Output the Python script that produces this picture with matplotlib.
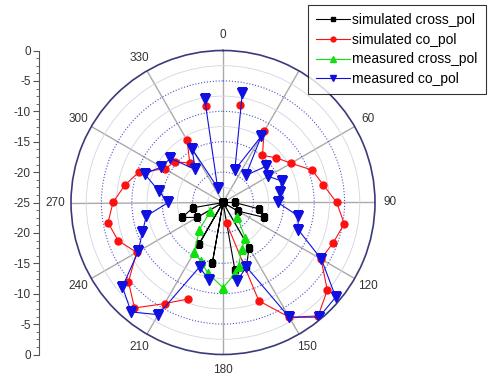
import numpy as np
import matplotlib
matplotlib.use('Agg')
import matplotlib.pyplot as plt
from matplotlib.ticker import MultipleLocator

plt.rcParams['font.family'] = ['Liberation Sans', 'DejaVu Sans']

nan = np.nan
angles = np.arange(0, 360, 10)

# simulated cross_pol (dB), every 10 deg
sim_cross = [-25, -25, -25, -25, -25, -25, -25, -25, -25, -23.1,
             -19.0, -17.9, -22.2, -25, -25, -16.4, -13.8, -13.7,
             -25, -14.85, -25, -17.2, -25, -25, -20.1, -17.8,
             -20.0, -25, -25, -25, -25, -25, -25, -25, -25, -25]
# simulated co_pol
sim_co = [nan, -8.7, nan, -11.5, -14.9, -13.55, -12.1, -9.4, -8.25, -6.3,
          -4.75, -5.7, -6.4, -2.6, -0.65, -3.2, -7.8, -21.5,
          nan, nan, -8.1, -5.8, -2.35, -4.7, -8.6, -6.65,
          -5.8, -6.9, -8.6, -10.3, -13.95, -14.6, -16.5, -13.2, nan, -8.85]
# measured cross_pol
meas_cross_ang = [135, 148, 158, 166, 170, 180, 192, 201, 210, 221, 236]
meas_cross = [-21.7, -18.1, -16.8, -14.3, -13.2, -11.0, -13.1, -14.7, -15.6, -19.1, -22.5]
# measured co_pol
meas_co = [nan, -6.75, -19.3, -12.4, -19.2, -15.7, -16.4, -14.7, -15.5, -16.0,
           -12.5, -11.8, -6.3, -0.8, -0.4, -3.2, -13.7, -11.9,
           nan, -12.0, -13.7, -3.7, -1.5, -3.4, -8.9, -10.9,
           -12.2, -16.0, -14.3, -11.3, -13.3, -13.7, -17.9, -14.8, -22.4, -7.7]

ang_labels = ['0', '', '60', '90', '120', '150', '180', '210', '240', '270', '300', '330']

fig = plt.figure(figsize=(4.91, 3.77), dpi=100)
ax = fig.add_axes([71/491, 22.5/377, 304/491, 304/377], projection='polar')
ax.set_theta_zero_location('N')
ax.set_theta_direction(-1)
ax.set_rlim(-25, 0)

th = np.deg2rad(angles)
ax.plot(th, sim_cross, color='black', lw=0.8, marker='s', ms=4.5, label='simulated cross_pol', zorder=3)
ax.plot(th, sim_co, color='#ff1010', lw=0.8, marker='o', ms=5, label='simulated co_pol', zorder=4)
ax.plot(np.deg2rad(meas_cross_ang), meas_cross, color='#10e010', lw=0.8, marker='^', ms=5.5,
        label='measured cross_pol', zorder=5)
ax.plot(th, meas_co, color='#1010e0', lw=0.8, marker='v', ms=6.5, label='measured co_pol', zorder=6)

ax.set_xticks(np.deg2rad(np.arange(0, 360, 30)))
ax.set_xticklabels(ang_labels, fontsize=8.5, color='#333333')
ax.set_xticks(np.deg2rad(np.arange(15, 360, 30)), minor=True)
ax.tick_params(axis='x', which='major', pad=4, length=0)
ax.tick_params(axis='x', which='minor', direction='in', length=4, color='#3a3a7a')
ax.xaxis.grid(True, color='#aaaaaa', lw=1, ls='-')

ax.set_yticks([-20, -15, -10, -5])
ax.set_yticks([-22.5, -17.5, -12.5, -7.5, -2.5], minor=True)
ax.set_yticklabels([])
ax.yaxis.grid(True, which='major', color='#5050cc', lw=0.8, ls=':')
ax.yaxis.grid(True, which='minor', color='#d4d4e2', lw=0.6, ls='-')
ax.tick_params(axis='y', which='both', length=0)
ax.spines['polar'].set_color('#3a3a7a')
ax.spines['polar'].set_linewidth(1.2)

# linear dB scale on the left
ax2 = fig.add_axes([39/491, 22.5/377, 0.001, 304/377])
ax2.set_ylim(-25, 25)
ax2.set_xticks([])
yt = np.arange(-25, 26, 5)
ax2.set_yticks(yt)
ax2.set_yticklabels([str(abs(v) - 25) for v in yt], fontsize=8.5, color='#333333')
ax2.yaxis.set_minor_locator(MultipleLocator(1.25))
ax2.tick_params(axis='y', which='major', length=4, color='#555555', pad=2)
ax2.tick_params(axis='y', which='minor', length=2, color='#555555')
for s in ['top', 'right', 'bottom']:
    ax2.spines[s].set_visible(False)
ax2.spines['left'].set_color('#555555')

leg = fig.legend(loc='upper left', bbox_to_anchor=(308/491, 1 - 5/377), fontsize=10,
                 frameon=True, fancybox=False, handlelength=2.4, handletextpad=0.2,
                 labelspacing=0.4, borderpad=0.6, borderaxespad=0, markerscale=0.7)
leg.get_frame().set_edgecolor('black')
leg.get_frame().set_linewidth(0.8)

fig.savefig('out.png', dpi=100)
